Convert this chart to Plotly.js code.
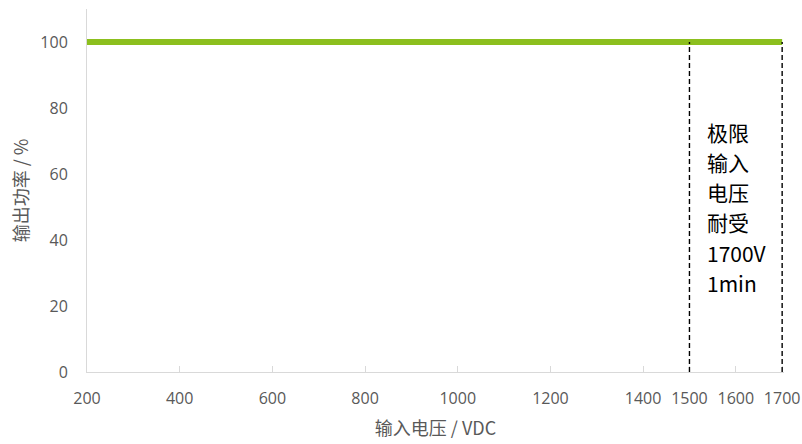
<!DOCTYPE html>
<html>
<head>
<meta charset="utf-8">
<script src="https://cdn.plot.ly/plotly-3.0.1.min.js"></script>
<style>html,body{margin:0;padding:0;background:#fff;}#chart{width:802px;height:444px;}</style>
</head>
<body>
<div id="chart"></div>
<script>
// Data
const voltage = [200, 1700];
const outputPower = [100, 100];
const limitLines = [1500, 1700];
const limitTop = 100;
const xTickVals = [200, 400, 600, 800, 1000, 1200, 1400, 1500, 1600, 1700];
const xTickText = ['200', '400', '600', '800', '1000', '1200', '1400', '1500', '1600', '1700'];
const yTickVals = [0, 20, 40, 60, 80, 100];
const noteLines = ['极限', '输入', '电压', '耐受', '1700V', '1min'];
const xTitle = '输入电压 / VDC';
const yTitle = '输出功率 / %';

const cjk = 'Noto Sans CJK SC, Open Sans, sans-serif';
const tickFont = {family: 'Open Sans, Noto Sans CJK SC, sans-serif', size: 16, color: '#595959'};

const traces = [{
  x: voltage, y: outputPower, type: 'scatter', mode: 'lines',
  line: {color: '#8cbf1e', width: 6}, hoverinfo: 'skip', showlegend: false
}];

const shapes = limitLines.map(v => ({
  type: 'line', xref: 'x', yref: 'y', x0: v, x1: v, y0: 0, y1: limitTop,
  line: {color: '#000000', width: 1.4, dash: '5px,3px'}
}));

const annotations = noteLines.map((t, i) => ({
  xref: 'x', yref: 'y', x: 1534, y: 72.8 - i * 9.15, text: t, showarrow: false,
  xanchor: 'left', yanchor: 'middle',
  font: {family: cjk, size: 21, color: '#000000'}
}));

const layout = {
  width: 802, height: 444,
  margin: {l: 87, r: 18, t: 9, b: 72},
  paper_bgcolor: '#ffffff', plot_bgcolor: '#ffffff',
  showlegend: false,
  xaxis: {
    range: [200, 1704], tickvals: xTickVals, ticktext: xTickText,
    showgrid: false, zeroline: false, showline: true, linecolor: '#d9d9d9', linewidth: 1,
    ticks: 'inside', ticklen: 6, tickcolor: '#d9d9d9', tickfont: tickFont, ticklabelstandoff: 12,
    title: {text: xTitle, font: {family: cjk, size: 18, color: '#595959'}, standoff: 14}
  },
  yaxis: {
    range: [0, 110], tickvals: yTickVals,
    showgrid: false, zeroline: false, showline: true, linecolor: '#d9d9d9', linewidth: 1,
    ticks: '', tickfont: tickFont, ticklabelstandoff: 15,
    title: {text: yTitle, font: {family: cjk, size: 18, color: '#595959'}, standoff: 7}
  },
  shapes: shapes,
  annotations: annotations
};

Plotly.newPlot('chart', traces, layout, {displayModeBar: false, staticPlot: true});
</script>
</body>
</html>
